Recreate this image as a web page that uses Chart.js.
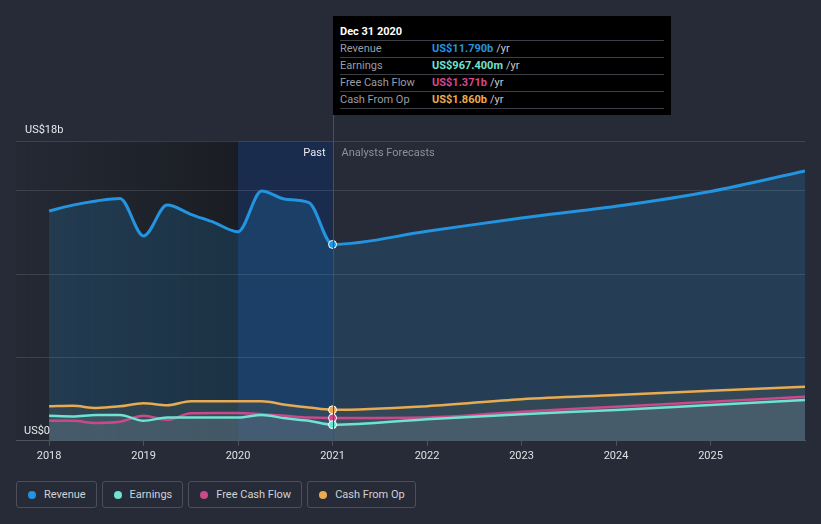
<!DOCTYPE html>
<html>
<head>
<meta charset="utf-8">
<script src="https://cdn.jsdelivr.net/npm/chart.js@4/dist/chart.umd.min.js"></script>
<style>
  html, body { margin: 0; padding: 0; background: #262b37; font-family: Roboto, "Noto Sans", sans-serif; }
  #wrap { position: relative; width: 821px; height: 524px; overflow: hidden; }
  #c { position: absolute; left: 0; top: 0; }
  #tip { position: absolute; left: 333px; top: 16px; width: 338px; height: 99px; background: #000; box-sizing: border-box; padding: 9px 7px 0 7px; }
  #tip .head { color: #fff; font-weight: bold; font-size: 11px; height: 15px; border-bottom: 1px solid #3c3f45; line-height: 14px; }
  #tip .row { font-size: 11px; height: 16px; line-height: 16px; border-bottom: 1px solid #3c3f45; color: #9a9da3; display: flex; }
  #tip .row span.l { width: 92px; }
  #tip .row b { font-weight: bold; margin-right: 3px; }
  #tip .row span.u { color: #c8cacd; }
  #legend { position: absolute; left: 16px; top: 481px; display: flex; gap: 5px; }
  #legend .item { border: 1px solid #4a4f5b; border-radius: 3px; height: 27px; box-sizing: border-box; padding: 0 10px 0 11px; display: flex; align-items: center; color: #d0d2d6; font-size: 11px; }
  #legend .dot { width: 8px; height: 8px; border-radius: 50%; margin-right: 8px; }
</style>
</head>
<body>
<div id="wrap">
  <canvas id="c" width="821" height="470"></canvas>
  <div id="tip">
    <div class="head">Dec 31 2020</div>
    <div class="row"><span class="l">Revenue</span><b style="color:#2394df">US$11.790b</b><span class="u">/yr</span></div>
    <div class="row"><span class="l">Earnings</span><b style="color:#6fe3d2">US$967.400m</b><span class="u">/yr</span></div>
    <div class="row"><span class="l">Free Cash Flow</span><b style="color:#d9478d">US$1.371b</b><span class="u">/yr</span></div>
    <div class="row"><span class="l">Cash From Op</span><b style="color:#e8ab52">US$1.860b</b><span class="u">/yr</span></div>
  </div>
  <div id="legend"></div>
</div>
<script>
// decimal years: quarterly history, then yearly analyst forecasts
const dates = [2018, 2018.25, 2018.5, 2018.75, 2019, 2019.25, 2019.5, 2019.75, 2020, 2020.25, 2020.5, 2020.75, 2021,
               2022, 2023, 2024, 2025, 2026];
const revenue  = [13.8, 14.15, 14.4, 14.55, 12.3, 14.15, 13.6, 13.1, 12.55, 15.0, 14.5, 14.3, 11.79,
                  12.58, 13.38, 14.08, 14.97, 16.2];
const earnings = [1.5, 1.46, 1.55, 1.55, 1.2, 1.4, 1.4, 1.4, 1.4, 1.55, 1.35, 1.2, 0.967,
                  1.3, 1.6, 1.85, 2.15, 2.45];
const fcf      = [1.2, 1.2, 1.07, 1.14, 1.5, 1.26, 1.65, 1.67, 1.67, 1.6, 1.5, 1.4, 1.371,
                  1.4, 1.75, 2.05, 2.35, 2.65];
const cfo      = [2.07, 2.1, 1.97, 2.07, 2.25, 2.13, 2.37, 2.37, 2.37, 2.37, 2.17, 2.0, 1.86,
                  2.08, 2.5, 2.75, 3.0, 3.25];
const yTicks = [0, 5, 10, 15, 18];
const xTickYears = [2018, 2019, 2020, 2021, 2022, 2023, 2024, 2025];
const nowYear = 2021;
const hoverFrom = 2020;

const series = [
  { label: 'Revenue', data: revenue, color: '#2394df', fill: 'rgba(35,148,223,0.18)', width: 3 },
  { label: 'Earnings', data: earnings, color: '#6fe3d2', fill: 'rgba(130,130,135,0.22)', width: 2.5 },
  { label: 'Free Cash Flow', data: fcf, color: '#c9498a', fill: 'rgba(130,130,135,0.15)', width: 2.5 },
  { label: 'Cash From Op', data: cfo, color: '#e8ab52', fill: 'rgba(75,70,62,0.45)', width: 2.5 }
];

const legend = document.getElementById('legend');
series.forEach(s => {
  const it = document.createElement('div');
  it.className = 'item';
  it.innerHTML = '<span class="dot" style="background:' + s.color + '"></span>' + s.label;
  legend.appendChild(it);
});

const nowIdx = dates.indexOf(nowYear);

const shading = {
  id: 'shading',
  beforeDraw(chart) {
    const { ctx, chartArea, scales } = chart;
    const x1 = scales.x.getPixelForValue(hoverFrom);
    const x2 = scales.x.getPixelForValue(nowYear);
    const g = ctx.createLinearGradient(chartArea.left, 0, x1, 0);
    g.addColorStop(0, 'rgba(30,33,40,0.2)');
    g.addColorStop(1, 'rgba(26,28,34,0.95)');
    ctx.save();
    ctx.fillStyle = g;
    ctx.fillRect(chartArea.left, chartArea.top, x1 - chartArea.left, chartArea.bottom - chartArea.top);
    ctx.fillStyle = 'rgba(21,45,85,0.75)';
    ctx.fillRect(x1, chartArea.top, x2 - x1, chartArea.bottom - chartArea.top);
    ctx.restore();
  },
  afterDatasetsDraw(chart) {
    const { ctx, chartArea, scales } = chart;
    const x2 = Math.round(scales.x.getPixelForValue(nowYear)) + 0.5;
    ctx.save();
    ctx.strokeStyle = '#2b5590';
    ctx.lineWidth = 1;
    ctx.beginPath();
    ctx.moveTo(x2, 16);
    ctx.lineTo(x2, chartArea.bottom);
    ctx.stroke();
    ctx.font = '11px Roboto, sans-serif';
    ctx.textBaseline = 'middle';
    ctx.textAlign = 'right';
    ctx.fillStyle = '#e8e9eb';
    ctx.fillText('Past', x2 - 8, chartArea.top + 12);
    ctx.textAlign = 'left';
    ctx.fillStyle = '#8d9097';
    ctx.fillText('Analysts Forecasts', x2 + 8, chartArea.top + 12);
    ctx.fillStyle = '#e8e9eb';
    ctx.textBaseline = 'alphabetic';
    ctx.fillText('US$18b', chartArea.left + 9, scales.y.getPixelForValue(18) - 8);
    ctx.fillText('US$0', chartArea.left + 8, scales.y.getPixelForValue(0) - 7);
    ctx.restore();
  }
};

new Chart(document.getElementById('c'), {
  type: 'line',
  data: {
    datasets: series.map(s => ({
      label: s.label,
      data: dates.map((d, i) => ({ x: d, y: s.data[i] })),
      borderColor: s.color,
      backgroundColor: s.fill,
      borderWidth: s.width,
      fill: 'origin',
      cubicInterpolationMode: 'monotone',
      pointRadius: dates.map((d, i) => i === nowIdx ? 4 : 0),
      pointBackgroundColor: s.color,
      pointBorderColor: '#ffffff',
      pointBorderWidth: 1
    }))
  },
  options: {
    responsive: false,
    animation: false,
    events: [],
    layout: { padding: { left: 16, right: 16, top: 141, bottom: 3 } },
    plugins: { legend: { display: false }, tooltip: { enabled: false }, filler: { drawTime: 'beforeDatasetsDraw' } },
    scales: {
      x: {
        type: 'linear',
        min: 2017.65,
        max: 2026,
        afterBuildTicks: axis => { axis.ticks = xTickYears.map(v => ({ value: v })); },
        ticks: { color: '#e0e1e4', font: { family: 'Roboto', size: 11 }, padding: 4, maxRotation: 0, callback: v => String(v) },
        grid: { drawOnChartArea: false, drawTicks: true, tickLength: 5, color: '#4d5260' },
        border: { display: true, color: '#4d5260', width: 1 }
      },
      y: {
        min: 0,
        max: 18,
        afterBuildTicks: axis => { axis.ticks = yTicks.map(v => ({ value: v })); },
        ticks: { display: false },
        grid: { color: 'rgba(255,255,255,0.12)', drawTicks: false },
        border: { display: false }
      }
    }
  },
  plugins: [shading]
});
</script>
</body>
</html>
